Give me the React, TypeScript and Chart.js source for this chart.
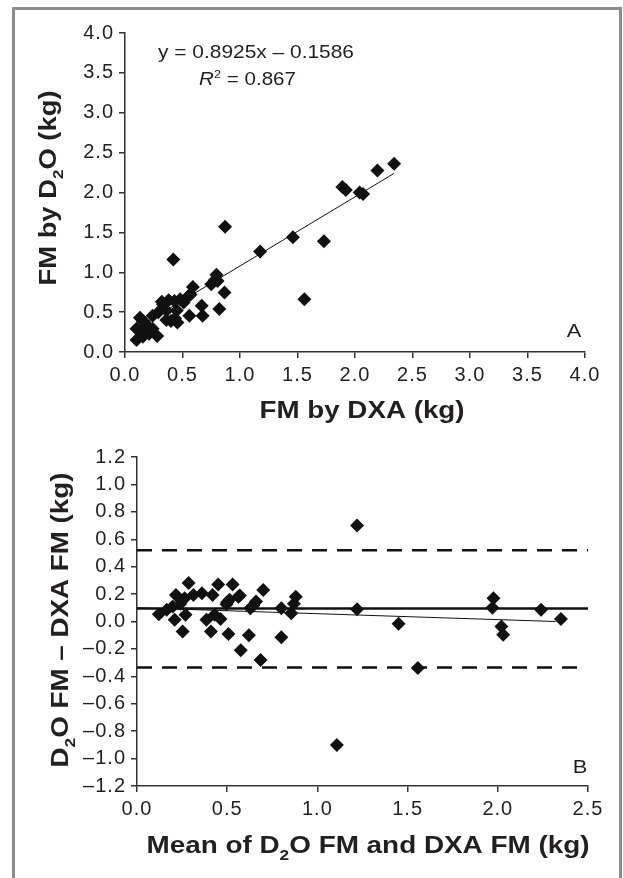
import React, { useEffect, useRef } from "react";
import { Chart, registerables } from "chart.js";

Chart.register(...registerables);

// ---------- Panel A: FM by DXA (x) vs FM by D2O (y) ----------
const dxaFM = [
  2.34, 2.195, 1.89, 1.92, 2.04, 2.07, 0.87, 1.46, 1.73, 1.175,
  0.42, 0.795, 0.805, 0.75, 0.59, 0.57, 0.865, 1.56, 0.667, 0.675,
  0.82, 0.56, 0.48, 0.43, 0.38, 0.33, 0.45, 0.40, 0.456, 0.29,
  0.24, 0.155, 0.13, 0.19, 0.10, 0.14, 0.21, 0.28, 0.10, 0.155,
  0.24, 0.17, 0.36, 0.51, 0.55, 0.20, 0.435, 0.36, 0.32, 0.78,
];
const d2oFM = [
  2.36, 2.275, 2.07, 2.03, 2.00, 1.98, 1.57, 1.44, 1.39, 1.26,
  1.16, 0.97, 0.89, 0.85, 0.815, 0.72, 0.745, 0.66, 0.58, 0.455,
  0.54, 0.455, 0.66, 0.64, 0.65, 0.60, 0.52, 0.39, 0.37, 0.50,
  0.455, 0.39, 0.43, 0.33, 0.29, 0.25, 0.23, 0.20, 0.15, 0.19,
  0.29, 0.37, 0.52, 0.62, 0.70, 0.30, 0.42, 0.40, 0.63, 0.90,
];
const fitLineX = [0.09, 2.34];
const fitLineY = [0.29, 2.24];
const ticksA = [0, 0.5, 1, 1.5, 2, 2.5, 3, 3.5, 4];

// ---------- Panel B: Bland–Altman ----------
const meanFM = [
  1.22, 1.108, 1.557, 1.45, 1.22, 1.976, 1.97, 2.02, 2.03, 2.24,
  2.35, 0.88, 0.87, 0.855, 0.80, 0.80, 0.70, 0.685, 0.66, 0.645,
  0.62, 0.628, 0.575, 0.57, 0.53, 0.513, 0.507, 0.496, 0.45, 0.463,
  0.43, 0.41, 0.385, 0.419, 0.36, 0.313, 0.286, 0.264, 0.269, 0.253,
  0.216, 0.209, 0.198, 0.165, 0.121, 0.24, 0.50, 0.562,
];
const diffFM = [
  0.70, -0.90, -0.34, -0.017, 0.09, 0.17, 0.10, -0.036, -0.097, 0.085,
  0.019, 0.18, 0.13, 0.06, 0.097, -0.114, 0.23, -0.28, 0.146, 0.116,
  -0.10, 0.097, -0.21, 0.19, 0.27, 0.158, -0.092, 0.126, 0.27, 0.019,
  0.05, -0.073, 0.012, 0.194, 0.206, 0.194, 0.28, 0.17, 0.05, -0.073,
  0.194, 0.012, 0.109, 0.085, 0.053, 0.13, 0.14, 0.18,
];
const biasX = [0, 2.5];
const biasValue = 0.095;
const upperLimitX = [0, 2.5];
const upperLimit = 0.52;
const lowerLimitX = [0, 2.44];
const lowerLimit = -0.335;
const trendX = [0, 2.32];
const trendY = [0.1, 0.0];
const ticksBX = [0, 0.5, 1, 1.5, 2, 2.5];
const ticksBY = [-1.2, -1, -0.8, -0.6, -0.4, -0.2, 0, 0.2, 0.4, 0.6, 0.8, 1, 1.2];

// ---------- styling ----------
const FONT = '"Liberation Sans", Arial, Helvetica, sans-serif';
const TEXT = "#231f20";
const AXIS = "#333333";
const MARK = "#111111";

type Part = { t: string; sub?: boolean; sup?: boolean; italic?: boolean };
type TextItem = {
  parts: Part[];
  x: number;
  y: number;
  size: number;
  bold?: boolean;
  align?: "left" | "center";
  rotate?: number;
  width?: number;
  hscale?: number;
};

function partFont(p: Part, size: number, bold?: boolean) {
  const s = p.sub || p.sup ? size * 0.62 : size;
  return `${p.italic ? "italic " : ""}${bold ? "bold " : ""}${s}px ${FONT}`;
}

function fmt(v: number) {
  if (Math.abs(v) < 1e-9) return "0.0";
  const s = Math.abs(v).toFixed(1);
  return v < 0 ? "\u2013" + s : s;
}

function makeTextPlugin(items: TextItem[]) {
  return {
    id: "richText",
    beforeDraw(chart: any) {
      chart.ctx.letterSpacing = "1px";
    },
    afterDraw(chart: any) {
      const ctx = chart.ctx;
      ctx.letterSpacing = "0px";
      for (const it of items) {
        ctx.save();
        ctx.letterSpacing = "0px";
        ctx.fillStyle = TEXT;
        ctx.textBaseline = "alphabetic";
        ctx.textAlign = "left";
        let total = 0;
        const widths = it.parts.map((p) => {
          ctx.font = partFont(p, it.size, it.bold);
          const w = ctx.measureText(p.t).width;
          total += w;
          return w;
        });
        const hs = it.width ? it.width / total : it.hscale ?? 1;
        ctx.translate(it.x, it.y);
        if (it.rotate) ctx.rotate(it.rotate);
        ctx.scale(hs, 1);
        let cx = it.align === "left" ? 0 : -total / 2;
        it.parts.forEach((p, i) => {
          ctx.font = partFont(p, it.size, it.bold);
          const dy = p.sub ? it.size * 0.3 : p.sup ? -it.size * 0.38 : 0;
          ctx.fillText(p.t, cx, dy);
          cx += widths[i];
        });
        ctx.restore();
      }
    },
  };
}

function axis(min: number, max: number, ticks: number[], fit: (s: any) => void, pad: number) {
  return {
    type: "linear" as const,
    min,
    max,
    afterBuildTicks: (s: any) => {
      s.ticks = ticks.map((v) => ({ value: v }));
    },
    afterFit: fit,
    border: { display: true, color: AXIS, width: 1.5 },
    grid: {
      display: true,
      drawOnChartArea: false,
      drawTicks: true,
      tickLength: 6,
      color: AXIS,
      lineWidth: 1.5,
    },
    ticks: {
      color: TEXT,
      font: { family: FONT, size: 20 },
      padding: pad,
      maxRotation: 0,
      autoSkip: false,
      callback: (v: any) => fmt(Number(v)),
    },
  };
}

const pointStyleOpts = {
  pointStyle: "rectRot" as const,
  pointRadius: 7,
  backgroundColor: MARK,
  borderColor: MARK,
  borderWidth: 0,
};

function lineSet(xs: number[], ys: number[], width: number, dash: number[] = []) {
  return {
    type: "line" as const,
    data: xs.map((x, i) => ({ x, y: ys[i] })),
    showLine: true,
    borderColor: MARK,
    borderWidth: width,
    borderDash: dash,
    pointRadius: 0,
    fill: false,
    tension: 0,
  };
}

export default function App() {
  const refA = useRef<HTMLCanvasElement>(null);
  const refB = useRef<HTMLCanvasElement>(null);

  useEffect(() => {
    const chartA = new Chart(refA.current as HTMLCanvasElement, {
      type: "scatter",
      data: {
        datasets: [
          { data: dxaFM.map((x, i) => ({ x, y: d2oFM[i] })), ...pointStyleOpts },
          lineSet(fitLineX, fitLineY, 1),
        ] as any,
      },
      options: {
        responsive: false,
        maintainAspectRatio: false,
        animation: false,
        devicePixelRatio: 1,
        events: [],
        layout: { padding: { left: 0, right: 38, top: 33, bottom: 0 } },
        plugins: { legend: { display: false }, tooltip: { enabled: false } },
        scales: {
          x: axis(0, 4, ticksA, (s: any) => { s.height = 88; }, 5),
          y: axis(0, 4, ticksA, (s: any) => { s.width = 125; }, 5),
        },
      } as any,
      plugins: [
        makeTextPlugin([
          { parts: [{ t: "FM by DXA (kg)" }], x: 362, y: 418, size: 23, bold: true, width: 205 },
          {
            parts: [{ t: "FM by D" }, { t: "2", sub: true }, { t: "O (kg)" }],
            x: 56, y: 188, size: 23, bold: true, rotate: -Math.PI / 2, width: 195,
          },
          { parts: [{ t: "y = 0.8925x \u2013 0.1586" }], x: 158, y: 58, size: 18.5, align: "left", width: 196 },
          {
            parts: [{ t: "R", italic: true }, { t: "2", sup: true }, { t: " = 0.867" }],
            x: 199, y: 85, size: 18.5, align: "left", width: 97,
          },
          { parts: [{ t: "A" }], x: 574, y: 337, size: 19, hscale: 1.15 },
        ]) as any,
      ],
    });

    const chartB = new Chart(refB.current as HTMLCanvasElement, {
      type: "scatter",
      data: {
        datasets: [
          { data: meanFM.map((x, i) => ({ x, y: diffFM[i] })), ...pointStyleOpts },
          lineSet(biasX, biasX.map(() => biasValue), 2.5),
          lineSet(trendX, trendY, 1),
          lineSet(upperLimitX, upperLimitX.map(() => upperLimit), 2.5, [15, 10]),
          lineSet(lowerLimitX, lowerLimitX.map(() => lowerLimit), 2.5, [15, 10]),
        ] as any,
      },
      options: {
        responsive: false,
        maintainAspectRatio: false,
        animation: false,
        devicePixelRatio: 1,
        events: [],
        layout: { padding: { left: 0, right: 35, top: 17, bottom: 0 } },
        plugins: { legend: { display: false }, tooltip: { enabled: false } },
        scales: {
          x: axis(0, 2.5, ticksBX, (s: any) => { s.height = 92; }, 5),
          y: axis(-1.2, 1.2, ticksBY, (s: any) => { s.width = 137; }, 5),
        },
      } as any,
      plugins: [
        makeTextPlugin([
          {
            parts: [{ t: "Mean of D" }, { t: "2", sub: true }, { t: "O FM and DXA FM (kg)" }],
            x: 368, y: 413, size: 23, bold: true, width: 443,
          },
          {
            parts: [{ t: "D" }, { t: "2", sub: true }, { t: "O FM \u2013 DXA FM (kg)" }],
            x: 68, y: 180, size: 23, bold: true, rotate: -Math.PI / 2, width: 295,
          },
          { parts: [{ t: "B" }], x: 580, y: 333, size: 19, hscale: 1.15 },
        ]) as any,
      ],
    });

    return () => {
      chartA.destroy();
      chartB.destroy();
    };
  }, []);

  return (
    <div style={{ position: "absolute", left: 0, top: 0, width: 623, height: 878, background: "#fff", overflow: "hidden" }}>
      <div
        style={{
          position: "absolute",
          left: 12,
          top: 7,
          width: 604,
          height: 880,
          borderLeft: "3px solid #8c8c8c",
          borderTop: "3px solid #8c8c8c",
          borderRight: "3px solid #8c8c8c",
        }}
      />
      <canvas
        ref={refA}
        width={623}
        height={440}
        style={{ position: "absolute", left: 0, top: 0, width: 623, height: 440 }}
      />
      <canvas
        ref={refB}
        width={623}
        height={438}
        style={{ position: "absolute", left: 0, top: 440, width: 623, height: 438 }}
      />
    </div>
  );
}
